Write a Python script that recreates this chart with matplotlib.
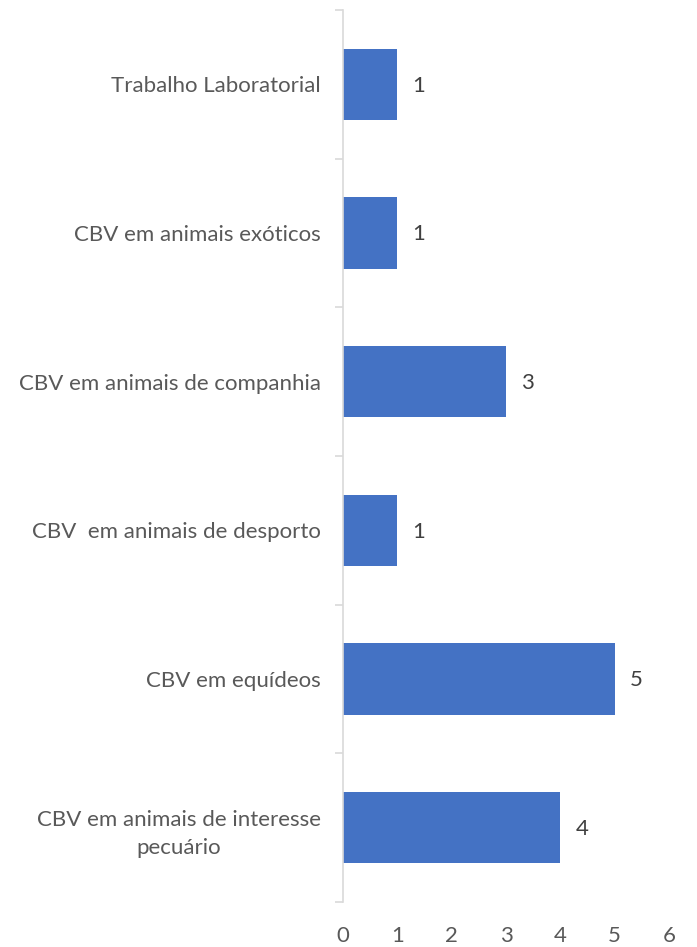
import numpy as np
import matplotlib.pyplot as plt

categorias = ['CBV em animais de interesse\npecuário',
              'CBV em equídeos',
              'CBV  em animais de desporto',
              'CBV em animais de companhia',
              'CBV em animais exóticos',
              'Trabalho Laboratorial']
valores = [4, 5, 1, 3, 1, 1]
xticks = [0, 1, 2, 3, 4, 5, 6]

plt.rcParams['font.family'] = ['Lato', 'DejaVu Sans']
cor_texto = '#595959'

fig = plt.figure(figsize=(6.97, 9.47), dpi=100)
ax = fig.add_axes([343/697, 1-902/947, (669-343)/697, (902-10)/947])

y = np.arange(len(categorias))
ax.barh(y, valores, height=0.48, color='#4472C4')

for yi, v in zip(y, valores):
    ax.annotate(str(v), (v, yi), xytext=(11, -1), textcoords='offset points',
                ha='left', va='center', fontsize=16, color='#404040')

ax.set_xlim(0, 6)
ax.set_ylim(-0.5, len(categorias)-0.5)
ax.set_xticks(xticks)
ax.set_yticks(y)
ax.set_yticklabels(categorias, fontsize=16, color=cor_texto,
                   multialignment='center', linespacing=1.55)
ax.set_yticks(np.arange(-0.5, len(categorias)), minor=True)

for s in ['top', 'right', 'bottom']:
    ax.spines[s].set_visible(False)
ax.spines['left'].set_color('#d9d9d9')
ax.spines['left'].set_linewidth(1.2)

ax.tick_params(axis='y', which='major', length=0, pad=16)
ax.tick_params(axis='y', which='minor', length=6, color='#d9d9d9', width=1.2)
ax.tick_params(axis='x', length=0, pad=17, labelsize=16, labelcolor=cor_texto)

plt.savefig('out.png', dpi=100)
